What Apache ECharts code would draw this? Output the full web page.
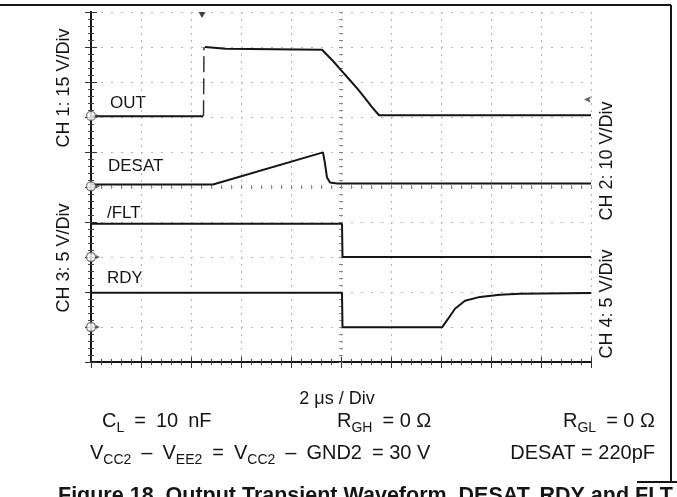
<!DOCTYPE html>
<html><head><meta charset="utf-8">
<script src="https://cdn.jsdelivr.net/npm/echarts@6/dist/echarts.min.js"></script>
<style>html,body{margin:0;padding:0;background:#fff}#c{width:677px;height:497px}</style>
</head><body><div id="c"></div>
<script>
// Time in microseconds (2 us / Div), level in screen divisions (0..10)
const outTime   = [0, 4.48, 4.56, 5.4, 9.24, 9.68, 10.0, 10.36, 10.68, 10.96, 11.24, 11.52, 20];
const outLevel  = [7.02, 7.02, 9.0, 8.95, 8.92, 8.60, 8.34, 8.05, 7.79, 7.54, 7.28, 7.05, 7.05];
const outEdgeTime  = [4.5, 4.52];
const outEdgeLevel = [7.02, 9.0];

const desatTime  = [0, 4.88, 9.28, 9.36, 9.44, 9.56, 9.84, 20];
const desatLevel = [5.07, 5.07, 5.99, 5.67, 5.27, 5.13, 5.10, 5.10];

const fltTime  = [0, 10.04, 10.06, 20];
const fltLevel = [3.95, 3.95, 3.0, 3.0];

const rdyTime  = [0, 10.04, 10.06, 14.04, 14.28, 14.56, 14.96, 15.56, 16.36, 17.16, 20];
const rdyLevel = [1.98, 1.98, 0.99, 0.99, 1.23, 1.52, 1.75, 1.86, 1.92, 1.95, 1.97];

const groundTime  = [0, 0, 0, 0];
const groundLevel = [7.03, 5.02, 3.0, 1.0];

const traceNames = ['OUT', 'DESAT', '/FLT', 'RDY'];
const channelNames = ['CH 1: 15 V/Div', 'CH 2: 10 V/Div', 'CH 3: 5 V/Div', 'CH 4: 5 V/Div'];
const timebase = '2 \u03bcs / Div';

const pairs = (t, v) => t.map((x, i) => [x, v[i]]);
const FONT = '"Liberation Sans", Arial, Helvetica, sans-serif';
const INK = '#151515';
const SP = '\u2002';

const chart = echarts.init(document.getElementById('c'), null, {renderer: 'canvas'});

function axisX(extra) {
  return Object.assign({
    type: 'value', min: 0, max: 20, interval: 2,
    axisLabel: {show: false},
    axisLine: {show: false},
    axisTick: {show: true, inside: true, length: 6, lineStyle: {color: '#333', width: 1}},
    minorTick: {show: true, splitNumber: 5, length: 3, lineStyle: {color: '#444', width: 1}},
    splitLine: {show: false}
  }, extra);
}
function axisY(extra) {
  return Object.assign({
    type: 'value', min: 0, max: 10, interval: 1,
    axisLabel: {show: false},
    axisLine: {show: false},
    axisTick: {show: true, inside: true, length: 6, lineStyle: {color: '#333', width: 1}},
    minorTick: {show: true, splitNumber: 5, length: 3, lineStyle: {color: '#444', width: 1}},
    splitLine: {show: false}
  }, extra);
}
const centerTick = {show: true, length: 2, lineStyle: {color: '#8a8a8a', width: 1}};
const centerMinor = {show: true, splitNumber: 5, length: 2, lineStyle: {color: '#8a8a8a', width: 1}};

const lineSeries = (name, data, extra) => Object.assign({
  name, type: 'line', data, showSymbol: false, symbol: 'none',
  lineStyle: {color: INK, width: 2}, animation: false, z: 5
}, extra);

const outData = pairs(outTime, outLevel);
outData.splice(2, 0, '-');   // gap: the fast rising edge is drawn as its own dashed segment

const richStyles = {
  n: {fontSize: 20, fontFamily: FONT, fill: INK},
  s: {fontSize: 14, fontFamily: FONT, fill: INK, padding: [14, 0, 0, 0]}
};
const txt = (x, y, text, o) => ({
  type: 'text', x, y, silent: true, rotation: (o && o.rot) || 0,
  style: {text, fontSize: (o && o.size) || 17, fontFamily: FONT, fontWeight: (o && o.weight) || 'normal',
    fill: INK, align: (o && o.align) || 'left', verticalAlign: 'middle', rich: richStyles}
});

const option = {
  backgroundColor: '#fff',
  animation: false,
  grid: {left: 91, top: 12, width: 500, height: 350, show: false},
  xAxis: [
    axisX({position: 'bottom', axisLine: {show: true, lineStyle: {color: INK, width: 2}},
      axisTick: {show: true, inside: true, length: 5, lineStyle: {color: '#333', width: 1}},
      splitLine: {show: true, lineStyle: {color: '#b4b4b4', width: 1, type: [2, 5]}}}),
    axisX({position: 'top', axisTick: {show: true, inside: true, length: 6, lineStyle: {color: '#333'}}}),
    axisX({position: 'bottom', offset: -175, axisTick: Object.assign({inside: true}, centerTick), minorTick: centerMinor}),
    axisX({position: 'bottom', offset: -175, axisTick: Object.assign({inside: false}, centerTick), minorTick: centerMinor})
  ],
  yAxis: [
    axisY({position: 'left', axisLine: {show: true, lineStyle: {color: INK, width: 2}},
      splitLine: {show: true, lineStyle: {color: '#b4b4b4', width: 1, type: [2, 8]}}}),
    axisY({position: 'right', axisLine: {show: true, lineStyle: {color: INK, width: 2}}}),
    axisY({position: 'left', offset: -250, axisTick: Object.assign({inside: true}, centerTick), minorTick: centerMinor}),
    axisY({position: 'left', offset: -250, axisTick: Object.assign({inside: false}, centerTick), minorTick: centerMinor})
  ],
  series: [
    lineSeries(traceNames[0], outData),
    lineSeries(traceNames[0] + ' edge', pairs(outEdgeTime, outEdgeLevel),
      {lineStyle: {color: '#333', width: 1.5, type: [16, 6]}}),
    lineSeries(traceNames[1], pairs(desatTime, desatLevel)),
    lineSeries(traceNames[2], pairs(fltTime, fltLevel)),
    lineSeries(traceNames[3], pairs(rdyTime, rdyLevel)),
    {
      name: 'ground', type: 'scatter', data: pairs(groundTime, groundLevel), symbol: 'circle', symbolSize: 9,
      clip: false, z: 8, itemStyle: {color: '#fff', borderColor: '#555', borderWidth: 1.3}, silent: true
    },
    {
      name: 'ground arrow', type: 'scatter', data: pairs(groundTime, groundLevel), symbol: 'triangle', symbolSize: [4, 4],
      symbolRotate: -90, symbolOffset: [7, 0], clip: false, z: 8, itemStyle: {color: '#444'}, silent: true
    },
    {
      name: 'trigger', type: 'scatter', data: [[4.44, 10]], symbol: 'triangle', symbolSize: [7, 6],
      symbolRotate: 180, symbolOffset: [0, 3], clip: false, z: 8, itemStyle: {color: INK}, silent: true
    },
    {
      name: 'trigger level', type: 'scatter', data: [[19.72, 7.5]], symbol: 'arrow', symbolSize: [5, 7],
      symbolRotate: 90, clip: false, z: 8, itemStyle: {color: '#333'}, silent: true
    }
  ],
  graphic: [
    {type: 'line', silent: true, shape: {x1: 0, y1: 5, x2: 671, y2: 5}, style: {stroke: INK, lineWidth: 2}},
    {type: 'line', silent: true, shape: {x1: 671, y1: 5, x2: 671, y2: 482}, style: {stroke: INK, lineWidth: 2}},
    txt(110, 103, traceNames[0]),
    txt(108, 166, traceNames[1]),
    txt(107, 213, traceNames[2]),
    txt(107, 278, traceNames[3]),
    txt(64, 88, channelNames[0], {align: 'center', rot: Math.PI / 2, size: 18}),
    txt(607, 161, channelNames[1], {align: 'center', rot: Math.PI / 2, size: 18}),
    txt(64, 258, channelNames[2], {align: 'center', rot: Math.PI / 2, size: 18}),
    txt(607, 304, channelNames[3], {align: 'center', rot: Math.PI / 2, size: 18}),
    txt(337, 399, timebase, {align: 'center', size: 18}),
    txt(102, 421, '{n|C}{s|L}{n|' + SP + '=' + SP + '10' + SP + 'nF}', {size: 20}),
    txt(337, 421, '{n|R}{s|GH}{n|' + SP + '= 0 \u03a9}', {size: 20}),
    txt(655, 421, '{n|R}{s|GL}{n|' + SP + '= 0 \u03a9}', {size: 20, align: 'right'}),
    txt(90, 453, '{n|V}{s|CC2}{n|' + SP + '\u2013' + SP + 'V}{s|EE2}{n|' + SP + '=' + SP + 'V}{s|CC2}{n|' + SP + '\u2013' + SP +
      'GND2' + SP + '= 30 V}', {size: 20}),
    txt(655, 453, 'DESAT = 220pF', {size: 20, align: 'right'}),
    txt(58, 496, 'Figure 18. Output Transient Waveform, DESAT, RDY and FLT', {size: 21.5, weight: 'bold'}),
    {type: 'line', silent: true, shape: {x1: 637, y1: 482, x2: 677, y2: 482}, style: {stroke: INK, lineWidth: 2}}
  ]
};
chart.setOption(option);
</script></body></html>
